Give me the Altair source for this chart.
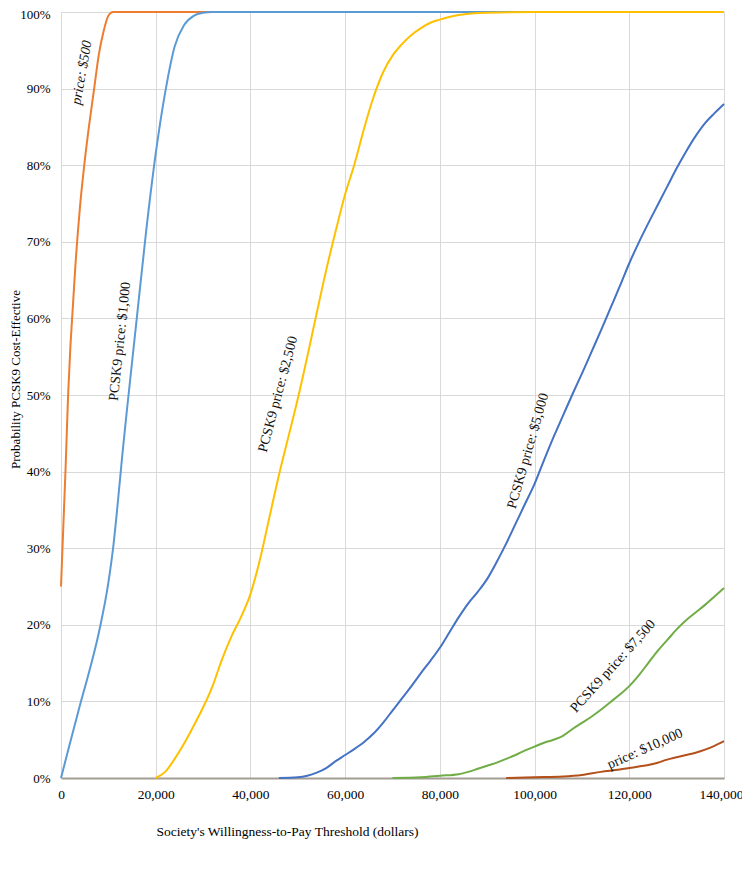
import altair as alt
import pandas as pd

# ---- data ----
series_names = ["PCSK9 price: $500", "PCSK9 price: $1,000", "PCSK9 price: $2,500",
                "PCSK9 price: $5,000", "PCSK9 price: $7,500", "PCSK9 price: $10,000"]
series_colors = ["#ED7D31", "#5B9BD5", "#FFC000", "#4472C4", "#70AD47", "#B4501A"]

x_500 = [0, 500, 1000, 1500, 2000, 2500, 3000, 4000, 5000, 6000, 7000, 8000, 9000, 10000, 11000, 12000, 140000]
y_500 = [0.25, 0.33, 0.41, 0.50, 0.565, 0.615, 0.665, 0.745, 0.805, 0.855, 0.90, 0.945, 0.975, 0.995, 1.0, 1.0, 1.0]

x_1000 = [0, 2000, 4000, 6000, 8000, 10000, 11000, 12000, 13000, 14000, 16000, 18000, 20000, 22000,
          24000, 26000, 28000, 30000, 32000, 140000]
y_1000 = [0.0, 0.048, 0.095, 0.14, 0.19, 0.255, 0.30, 0.36, 0.425, 0.485, 0.60, 0.715, 0.815, 0.895,
          0.955, 0.983, 0.995, 0.999, 1.0, 1.0]

x_2500 = [20000, 22000, 24000, 26000, 28000, 30000, 32000, 34000, 36000, 38000, 40000, 42000, 44000,
          46000, 48000, 50000, 52000, 54000, 56000, 58000, 60000, 62000, 64000, 66000, 68000, 70000,
          72000, 74000, 76000, 78000, 80000, 84000, 90000, 100000, 140000]
y_2500 = [0.0, 0.008, 0.025, 0.045, 0.068, 0.092, 0.12, 0.155, 0.185, 0.21, 0.24, 0.285, 0.34,
          0.395, 0.445, 0.495, 0.55, 0.607, 0.663, 0.714, 0.762, 0.802, 0.848, 0.889, 0.921, 0.943,
          0.958, 0.97, 0.979, 0.986, 0.99, 0.996, 0.999, 1.0, 1.0]

x_5000 = [46000, 50000, 52000, 54000, 56000, 58000, 60000, 62000, 64000, 66000, 68000, 70000, 72000,
          74000, 76000, 78000, 80000, 82000, 84000, 86000, 88000, 90000, 92000, 94000, 96000, 98000,
          100000, 102000, 104000, 106000, 108000, 110000, 112000, 114000, 116000, 118000, 120000,
          122000, 124000, 126000, 128000, 130000, 132000, 134000, 136000, 138000, 140000]
y_5000 = [0.0, 0.001, 0.003, 0.007, 0.013, 0.022, 0.03, 0.038, 0.047, 0.058, 0.072, 0.088, 0.104,
          0.12, 0.137, 0.153, 0.17, 0.19, 0.21, 0.228, 0.243, 0.26, 0.282, 0.306, 0.332, 0.358,
          0.384, 0.415, 0.445, 0.473, 0.501, 0.528, 0.556, 0.584, 0.613, 0.642, 0.672,
          0.699, 0.724, 0.748, 0.772, 0.796, 0.818, 0.838, 0.855, 0.868, 0.88]

x_7500 = [70000, 76000, 80000, 84000, 86000, 88000, 90000, 92000, 94000, 96000, 98000, 100000, 102000,
          104000, 106000, 108000, 110000, 112000, 114000, 116000, 118000, 120000, 122000, 124000,
          126000, 128000, 130000, 132000, 134000, 136000, 138000, 140000]
y_7500 = [0.0, 0.001, 0.003, 0.005, 0.008, 0.012, 0.016, 0.02, 0.025, 0.03, 0.036, 0.041, 0.046,
          0.05, 0.055, 0.064, 0.072, 0.08, 0.089, 0.099, 0.109, 0.12, 0.134, 0.15,
          0.166, 0.18, 0.194, 0.206, 0.216, 0.226, 0.237, 0.248]

x_10000 = [94000, 100000, 106000, 110000, 114000, 118000, 120000, 122000, 124000, 126000, 128000,
           130000, 132000, 134000, 136000, 138000, 140000]
y_10000 = [0.0, 0.001, 0.002, 0.004, 0.008, 0.011, 0.013, 0.015, 0.017, 0.02, 0.024,
           0.027, 0.03, 0.033, 0.037, 0.042, 0.048]

x_ticks = [0, 20000, 40000, 60000, 80000, 100000, 120000, 140000]
y_ticks = [0, 0.1, 0.2, 0.3, 0.4, 0.5, 0.6, 0.7, 0.8, 0.9, 1.0]

# curve labels: text, x, y, angle, italic
label_text = ["price: $500", "PCSK9 price: $1,000", "PCSK9 price: $2,500",
              "PCSK9 price: $5,000", "PCSK9 price: $7,500", "price: $10,000"]
label_x = [4435, 12460, 45830, 98630, 116580, 123340]
label_y = [0.921, 0.57, 0.501, 0.427, 0.146, 0.038]
label_angle = [280, 276, 285, 286, 312, 336]
label_italic = [True, False, False, False, False, False]

FONT = "Liberation Serif"

xs_all = [x_500, x_1000, x_2500, x_5000, x_7500, x_10000]
ys_all = [y_500, y_1000, y_2500, y_5000, y_7500, y_10000]
rows = []
for i, (name, xs, ys) in enumerate(zip(series_names, xs_all, ys_all)):
    for xv, yv in zip(xs, ys):
        rows.append({"series": name, "order": i, "wtp": xv, "prob": yv})
df = pd.DataFrame(rows)

x_enc = alt.X("wtp:Q",
              scale=alt.Scale(domain=[0, 140000], nice=False),
              axis=alt.Axis(values=x_ticks, format=",d",
                            title="Society's Willingness-to-Pay Threshold (dollars)",
                            titleX=226, titleY=53, titleAlign="center", titleBaseline="middle",
                            titleFontSize=13.5, titleFontWeight="normal", titleFont=FONT,
                            labelFontSize=13.5, labelFont=FONT, labelColor="#000000",
                            labelPadding=9, ticks=False,
                            labelOffset={"condition": {"test": "datum.value === 140000", "value": -3},
                                         "value": 0},
                            domain=True, domainColor="#A39C93", domainWidth=2,
                            grid=True, gridColor="#D9D9D9", gridWidth=1,
                            labelFlush=False))
y_enc = alt.Y("prob:Q",
              scale=alt.Scale(domain=[0, 1], nice=False),
              axis=alt.Axis(values=y_ticks, format=".0%",
                            title="Probability PCSK9  Cost-Effective",
                            titleX=-46, titleY=367, titleAlign="center", titleBaseline="middle",
                            titleAngle=270,
                            titleFontSize=13, titleFontWeight="normal", titleFont=FONT,
                            labelFontSize=13, labelFont=FONT, labelColor="#000000",
                            labelPadding=11, ticks=False, domain=False,
                            labelOffset={"condition": {"test": "datum.value === 1", "value": 2},
                                         "value": 0},
                            grid=True, gridColor="#D9D9D9", gridWidth=1,
                            labelFlush=False))

lines = alt.Chart(df).mark_line(strokeWidth=2, interpolate="monotone").encode(
    x=x_enc,
    y=y_enc,
    color=alt.Color("series:N", scale=alt.Scale(domain=series_names, range=series_colors), legend=None),
    detail="order:O",
)

layers = [lines]
for t, lx, ly, ang, it in zip(label_text, label_x, label_y, label_angle, label_italic):
    ldf = pd.DataFrame({"wtp": [lx], "prob": [ly], "txt": [t]})
    props = dict(font=FONT, fontSize=14, angle=ang, color="#111111", align="center", baseline="middle")
    if it:
        props["fontStyle"] = "italic"
    layers.append(
        alt.Chart(ldf).mark_text(**props).encode(
            x=alt.X("wtp:Q", scale=alt.Scale(domain=[0, 140000], nice=False)),
            y=alt.Y("prob:Q", scale=alt.Scale(domain=[0, 1], nice=False)),
            text="txt:N",
        )
    )

chart = alt.layer(*layers).properties(
    width=663,
    height=766,
    autosize=alt.AutoSizeParams(type="none"),
    padding={"left": 53, "top": 4, "right": 18, "bottom": 70},
).configure_view(stroke=None).configure(background="white")

chart.save("out.html", embed_options={"renderer": "svg", "actions": False})
